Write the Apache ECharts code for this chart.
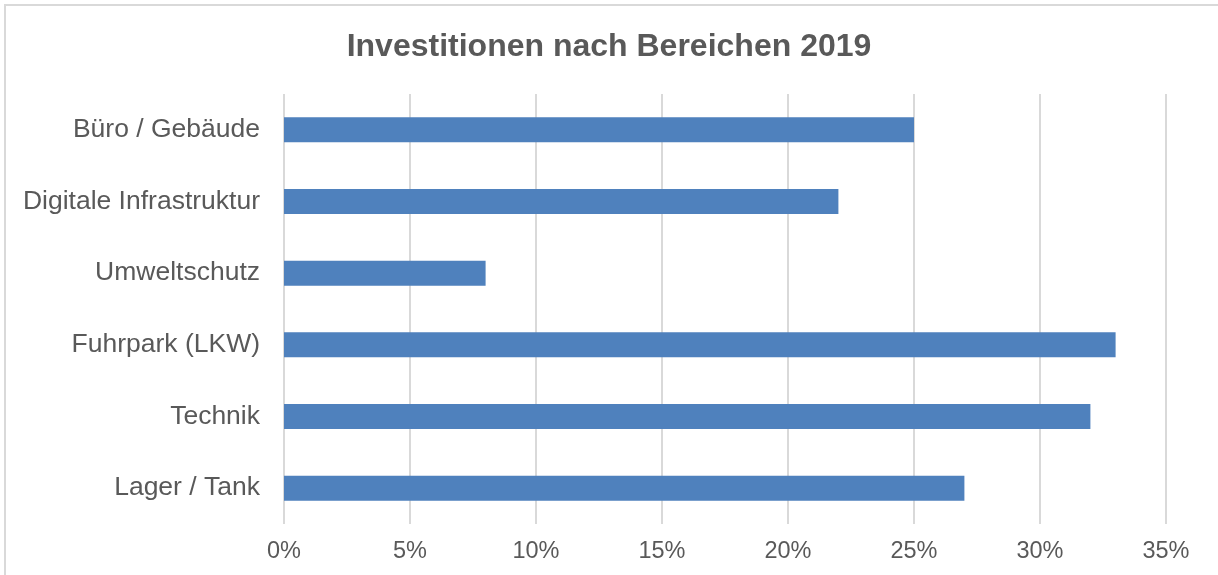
<!DOCTYPE html>
<html><head><meta charset="utf-8">
<script src="https://cdn.jsdelivr.net/npm/echarts@6/dist/echarts.min.js"></script>
<style>
html,body{margin:0;padding:0;background:#fff;overflow:hidden;}
#frame{position:absolute;left:4px;top:4px;width:1400px;height:800px;border:2px solid #D9D9D9;box-sizing:border-box;}
#chart{position:absolute;left:0;top:0;width:1218px;height:575px;}
</style></head>
<body>
<div id="frame"></div>
<div id="chart"></div>
<script>
const categories = ['Büro / Gebäude','Digitale Infrastruktur','Umweltschutz','Fuhrpark (LKW)','Technik','Lager / Tank'];
const values = [25, 22, 8, 33, 32, 27];
const titleText = 'Investitionen nach Bereichen 2019';

const chart = echarts.init(document.getElementById('chart'), null, {renderer:'canvas'});
chart.setOption({
  backgroundColor: 'transparent',
  animation: false,
  title: {
    text: titleText, left: 'center', top: 26,
    textStyle: {fontFamily: 'Liberation Sans', fontSize: 32, fontWeight: 'bold', color: '#595959'}
  },
  grid: {left: 284, right: 52, top: 94, bottom: 51, containLabel: false},
  xAxis: {
    type: 'value', min: 0, max: 35, interval: 5,
    axisLabel: {formatter: '{value}%', fontFamily: 'Liberation Sans', fontSize: 23.5, color: '#595959', margin: 16},
    axisLine: {show: false}, axisTick: {show: false},
    splitLine: {show: true, lineStyle: {color: '#D9D9D9', width: 2}}
  },
  yAxis: {
    type: 'category', inverse: true, data: categories,
    axisLabel: {fontFamily: 'Liberation Sans', fontSize: 26.5, color: '#595959', margin: 24},
    axisLine: {show: false}, axisTick: {show: false}
  },
  series: [{
    type: 'bar', data: values, barWidth: 25,
    itemStyle: {color: '#4F81BD'}
  }]
});
</script>
</body></html>
